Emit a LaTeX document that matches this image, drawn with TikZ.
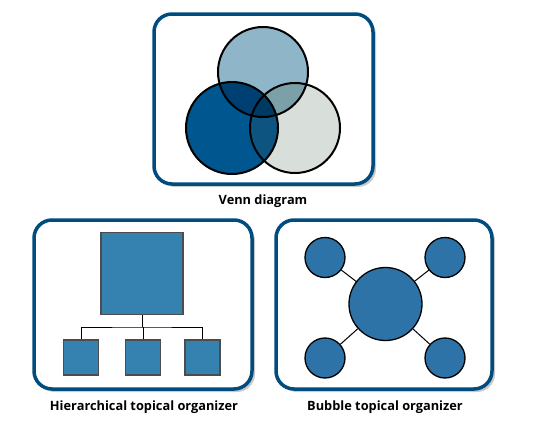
\documentclass[tikz,border=0pt]{standalone}
\usepackage{fontspec}
\setmainfont{Open Sans}
\usetikzlibrary{shadows}
\definecolor{frame}{HTML}{004C7E}
\definecolor{vtop}{HTML}{8FB5C8}
\definecolor{vleft}{HTML}{00568F}
\definecolor{vright}{HTML}{D8DFDA}
\definecolor{vtl}{HTML}{003F72}
\definecolor{vtr}{HTML}{7BA0A8}
\definecolor{vlr}{HTML}{0D5580}
\definecolor{vall}{HTML}{003962}
\definecolor{hbox}{HTML}{3581B0}
\definecolor{bub}{HTML}{2E73A8}
\tikzset{
  panel/.style={draw=frame, line width=3.5pt, fill=white, rounded corners=18pt,
    drop shadow={shadow xshift=3pt, shadow yshift=-3pt, opacity=0.35, fill=black!60}},
  caption/.style={font=\bfseries\fontsize{12.8}{14}\selectfont, text=black, inner sep=0pt},
  hsq/.style={draw=black!70, line width=1.5pt, fill=hbox, inner sep=0pt, minimum size=#1},
  bubble/.style={circle, draw=black, line width=1.3pt, fill=bub, inner sep=0pt, minimum size=#1},
  link/.style={draw=black, line width=1pt},
  vline/.style={draw=black, line width=2pt}
}
\begin{document}
\begin{tikzpicture}[x=1pt, y=-1pt]
\useasboundingbox (0,0) rectangle (555,431);
% panels
\node[panel, minimum width=219pt, minimum height=170pt, inner sep=0pt] (pv) at (263.5,99) {};
\node[panel, minimum width=218pt, minimum height=169pt, inner sep=0pt] (ph) at (143,304.5) {};
\node[panel, minimum width=216pt, minimum height=169pt, inner sep=0pt] (pb) at (384,304.5) {};
% Venn
\coordinate (ct) at (263,72);
\coordinate (cl) at (232,128);
\coordinate (cr) at (295,128);
\fill[vtop] (ct) circle (45);
\fill[vleft] (cl) circle (46);
\fill[vright] (cr) circle (45);
\begin{scope}
  \clip (ct) circle (45);
  \fill[vtl] (cl) circle (46);
  \fill[vtr] (cr) circle (45);
\end{scope}
\begin{scope}
  \clip (cl) circle (46);
  \fill[vlr] (cr) circle (45);
  \clip (ct) circle (45);
  \fill[vall] (cr) circle (45);
\end{scope}
\draw[vline] (ct) circle (45);
\draw[vline] (cl) circle (46);
\draw[vline] (cr) circle (45);
\node[caption] (lv) at (263,201) {Venn diagram};
% hierarchical
\node[hsq=82pt] (big) at (142,273.5) {};
\node[hsq=35pt] (s1) at (81,357.5) {};
\node[hsq=35pt] (s2) at (143,357.5) {};
\node[hsq=35pt] (s3) at (202.5,357.5) {};
\coordinate (bar) at (142,327);
\draw[link] (big.south) -- (bar);
\draw[link] (s1.north) |- (bar) -| (s3.north);
\draw[link] (s2.north) -- (s2.north |- bar);
\node[caption] (lh) at (144,407) {Hierarchical topical organizer};
% bubble
\node[bubble=73pt] (c) at (385.5,304) {};
\node[bubble=40pt] (b1) at (325,257.5) {};
\node[bubble=40pt] (b2) at (445,257.5) {};
\node[bubble=40pt] (b3) at (325,358) {};
\node[bubble=40pt] (b4) at (445,358) {};
\foreach \b in {b1,b2,b3,b4} \draw[link] (c) -- (\b);
\node[caption] (lb) at (385,407) {Bubble topical organizer};
\end{tikzpicture}
\end{document}
